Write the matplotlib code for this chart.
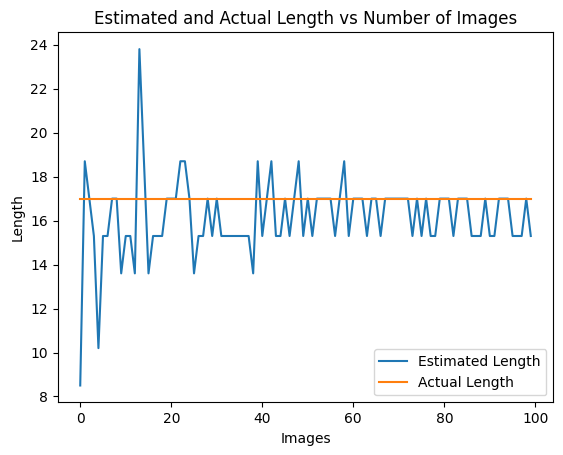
import matplotlib
matplotlib.use("Agg")
import matplotlib.pyplot as plt

# estimated length per number of images (quantised in steps of 1.7)
images = list(range(100))
estimated = [
    8.5, 18.7, 17.0, 15.3, 10.2, 15.3, 15.3, 17.0, 17.0, 13.6,
    15.3, 15.3, 13.6, 23.8, 18.7, 13.6, 15.3, 15.3, 15.3, 17.0,
    17.0, 17.0, 18.7, 18.7, 17.0, 13.6, 15.3, 15.3, 17.0, 15.3,
    17.0, 15.3, 15.3, 15.3, 15.3, 15.3, 15.3, 15.3, 13.6, 18.7,
    15.3, 17.0, 18.7, 15.3, 15.3, 17.0, 15.3, 17.0, 18.7, 15.3,
    17.0, 15.3, 17.0, 17.0, 17.0, 17.0, 15.3, 17.0, 18.7, 15.3,
    17.0, 17.0, 17.0, 15.3, 17.0, 17.0, 15.3, 17.0, 17.0, 17.0,
    17.0, 17.0, 17.0, 15.3, 17.0, 15.3, 17.0, 15.3, 15.3, 17.0,
    17.0, 17.0, 15.3, 17.0, 17.0, 17.0, 15.3, 15.3, 15.3, 17.0,
    15.3, 15.3, 17.0, 17.0, 17.0, 15.3, 15.3, 15.3, 17.0, 15.3,
]
actual = [17.0] * 100

fig = plt.figure(figsize=(5.63, 4.55), dpi=100)
ax = fig.add_axes([0.1025, 0.1158, 0.8803, 0.8132])

ax.plot(images, estimated, label='Estimated Length')
ax.plot(images, actual, label='Actual Length')
ax.set_title('Estimated and Actual Length vs Number of Images')
ax.set_xlabel('Images')
ax.set_ylabel('Length')
ax.legend(loc='lower right')

fig.savefig('out.png', dpi=100)
